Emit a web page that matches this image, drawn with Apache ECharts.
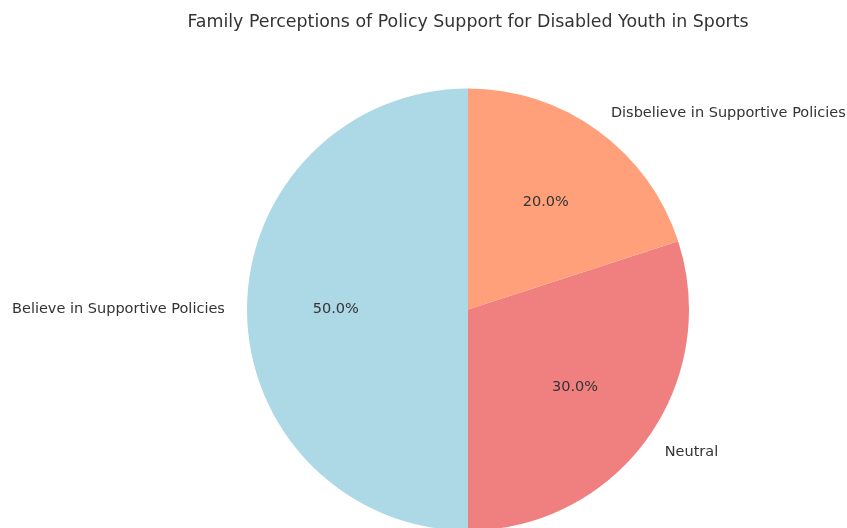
<!DOCTYPE html>
<html>
<head>
<meta charset="utf-8">
<script src="https://cdn.jsdelivr.net/npm/echarts@6/dist/echarts.min.js"></script>
<style>
  html, body { margin: 0; padding: 0; background: #fff; }
  #chart { width: 847px; height: 528px; }
</style>
</head>
<body>
<div id="chart"></div>
<script>
// Survey responses: share of families per perception category
const categories = ['Believe in Supportive Policies', 'Neutral', 'Disbelieve in Supportive Policies'];
const shares = [50, 30, 20];
const colors = ['#add8e6', '#f08080', '#ffa07a'];

const FONT = 'DejaVu Sans';
const CX = 468, CY = 309.5, R = 221;

const sliceData = categories.map((name, i) => ({
  name: name,
  value: shares[i],
  itemStyle: { color: colors[i] }
}));

const chart = echarts.init(document.getElementById('chart'), null, { renderer: 'canvas' });

chart.setOption({
  animation: false,
  title: {
    text: 'Family Perceptions of Policy Support for Disabled Youth in Sports',
    left: CX - 5,
    top: 9,
    textAlign: 'center',
    textStyle: { fontFamily: FONT, fontSize: 17.4, fontWeight: 'normal', color: '#333' }
  },
  series: [
    {
      // Wedges with category names placed just outside the rim
      type: 'pie',
      center: [CX, CY],
      radius: [0, R],
      startAngle: 90,
      clockwise: false,
      avoidLabelOverlap: false,
      silent: true,
      data: sliceData,
      label: {
        show: true,
        position: 'outside',
        formatter: '{b}',
        distanceToLabelLine: 0,
        padding: [6, 0, 0, 0],
        fontFamily: FONT,
        fontSize: 14.5,
        color: '#333'
      },
      labelLine: { show: false, length: R * 0.1, length2: 0 },
      emphasis: { disabled: true }
    },
    {
      // Transparent overlay carrying the percentage labels near 0.6 of the radius
      type: 'pie',
      center: [CX, CY],
      radius: [0, R * 1.17],
      startAngle: 90,
      clockwise: false,
      avoidLabelOverlap: false,
      silent: true,
      data: categories.map((name, i) => ({ name: name, value: shares[i] })),
      itemStyle: { color: 'rgba(0,0,0,0)' },
      label: {
        show: true,
        position: 'inside',
        formatter: p => p.percent.toFixed(1) + '%',
        padding: [7, 0, 0, 0],
        fontFamily: FONT,
        fontSize: 14.5,
        color: '#333'
      },
      labelLine: { show: false },
      emphasis: { disabled: true }
    }
  ]
});
</script>
</body>
</html>
